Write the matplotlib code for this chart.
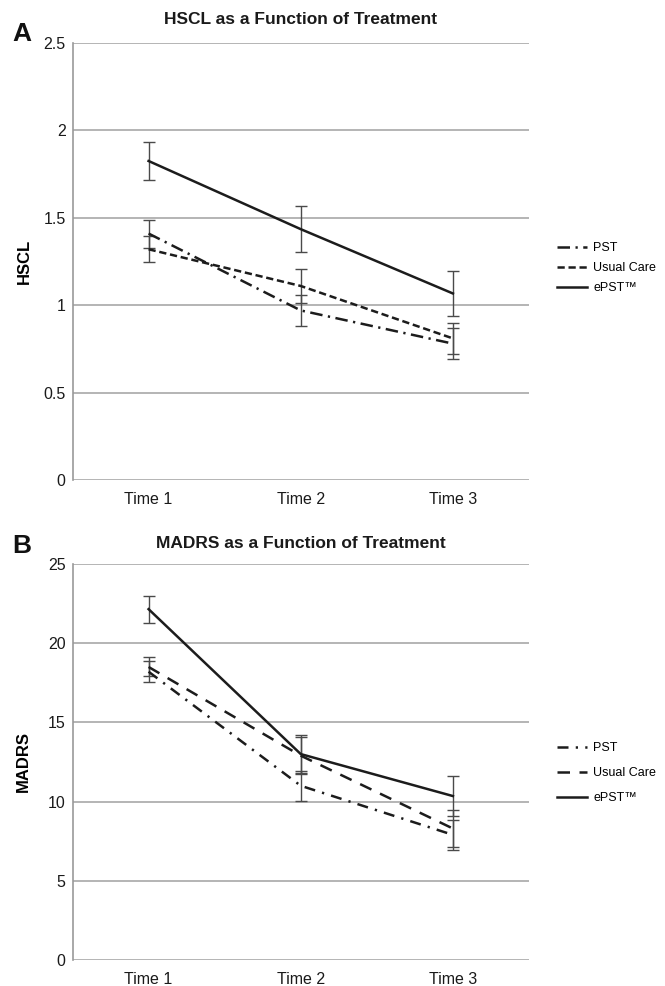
import matplotlib
matplotlib.use("Agg")
import matplotlib.pyplot as plt

plt.rcParams['font.family'] = ['Liberation Sans', 'DejaVu Sans']

# Dane
czasy = ["Time 1", "Time 2", "Time 3"]
grupy = ["PST", "Usual Care", "ePST\u2122"]

hscl_pst = [1.41, 0.97, 0.78]
hscl_pst_err = [0.08, 0.09, 0.09]
hscl_uc = [1.32, 1.11, 0.81]
hscl_uc_err = [0.075, 0.095, 0.09]
hscl_epst = [1.825, 1.435, 1.067]
hscl_epst_err = [0.11, 0.13, 0.13]

madrs_pst = [18.2, 11.0, 7.9]
madrs_pst_err = [0.65, 0.95, 0.95]
madrs_uc = [18.5, 12.9, 8.3]
madrs_uc_err = [0.6, 1.15, 1.15]
madrs_epst = [22.15, 13.0, 10.35]
madrs_epst_err = [0.85, 1.2, 1.25]

W, H = 665, 986
fig = plt.figure(figsize=(W / 100, H / 100), dpi=100)

kolor_linii = "#1c1c1c"
kolor_bledu = "#4a4a4a"


def panel(rect, serie, bledy, style, ylim, yticks, tytul, ylabel, litera, litera_y, tytul_y, leg_y, leg_spacing, lpad):
    ax = fig.add_axes(rect)
    x = [0.5, 1.5, 2.5]
    uchwyty = []
    for wart, err, ls, nazwa in zip(serie, bledy, style, grupy):
        ax.errorbar(x, wart, yerr=err, fmt="none", ecolor=kolor_bledu,
                    elinewidth=1.0, capsize=4, capthick=1.0, zorder=3)
        (l,) = ax.plot(x, wart, color=kolor_linii, lw=1.8, linestyle=ls,
                       zorder=4, label=nazwa, dash_capstyle="butt")
        uchwyty.append(l)
    ax.set_xlim(0, 3)
    ax.set_ylim(*ylim)
    ax.set_yticks(yticks)
    ax.set_yticklabels([("%g" % t) for t in yticks])
    ax.set_xticks(x)
    ax.set_xticklabels(czasy)
    ax.grid(axis="y", color="#a8a8a8", lw=1.2, zorder=0)
    ax.set_axisbelow(True)
    for s in ["top", "right", "bottom"]:
        ax.spines[s].set_visible(False)
    ax.spines["left"].set_color("#999999")
    ax.spines["left"].set_linewidth(1.2)
    ax.tick_params(length=0, labelsize=11.5, colors="#1a1a1a")
    ax.tick_params(axis="x", pad=9)
    ax.tick_params(axis="y", pad=5)
    ax.set_ylabel(ylabel, fontsize=12, fontweight="bold", labelpad=lpad)
    fig.text(0.452, tytul_y, tytul, ha="center", va="center",
             fontsize=12.5, fontweight="bold", color="#1a1a1a")
    fig.text(0.018, litera_y, litera, ha="left", va="center",
             fontsize=19, fontweight="bold", color="#111111")
    ax.legend(handles=uchwyty, loc="center left", bbox_to_anchor=(0.828, leg_y),
              bbox_transform=fig.transFigure, frameon=False, fontsize=9,
              handlelength=2.4, handletextpad=0.5, borderpad=0,
              labelspacing=leg_spacing)
    return ax


# Panel A
styleA = [(0, (5.0, 2.2, 0.9, 2.2)), (0, (2.9, 1.5)), "-"]
panel([72.5 / W, 1 - 480 / H, (529 - 72.5) / W, (480 - 43) / H],
      [hscl_pst, hscl_uc, hscl_epst], [hscl_pst_err, hscl_uc_err, hscl_epst_err],
      styleA, (0, 2.5), [0, 0.5, 1, 1.5, 2, 2.5],
      "HSCL as a Function of Treatment", "HSCL", "A",
      1 - 34 / H, 1 - 19 / H, 1 - 268 / H, 0.65, 8)

# Panel B
styleB = [(0, (4.4, 2.9, 0.9, 2.9)), (0, (5.0, 3.8)), "-"]
panel([72.5 / W, 1 - 960 / H, (529 - 72.5) / W, (960 - 564) / H],
      [madrs_pst, madrs_uc, madrs_epst], [madrs_pst_err, madrs_uc_err, madrs_epst_err],
      styleB, (0, 25), [0, 5, 10, 15, 20, 25],
      "MADRS as a Function of Treatment", "MADRS", "B",
      1 - 546 / H, 1 - 544 / H, 1 - 773 / H, 1.05, 12)

fig.savefig("out.png", dpi=100)
plt.close(fig)
